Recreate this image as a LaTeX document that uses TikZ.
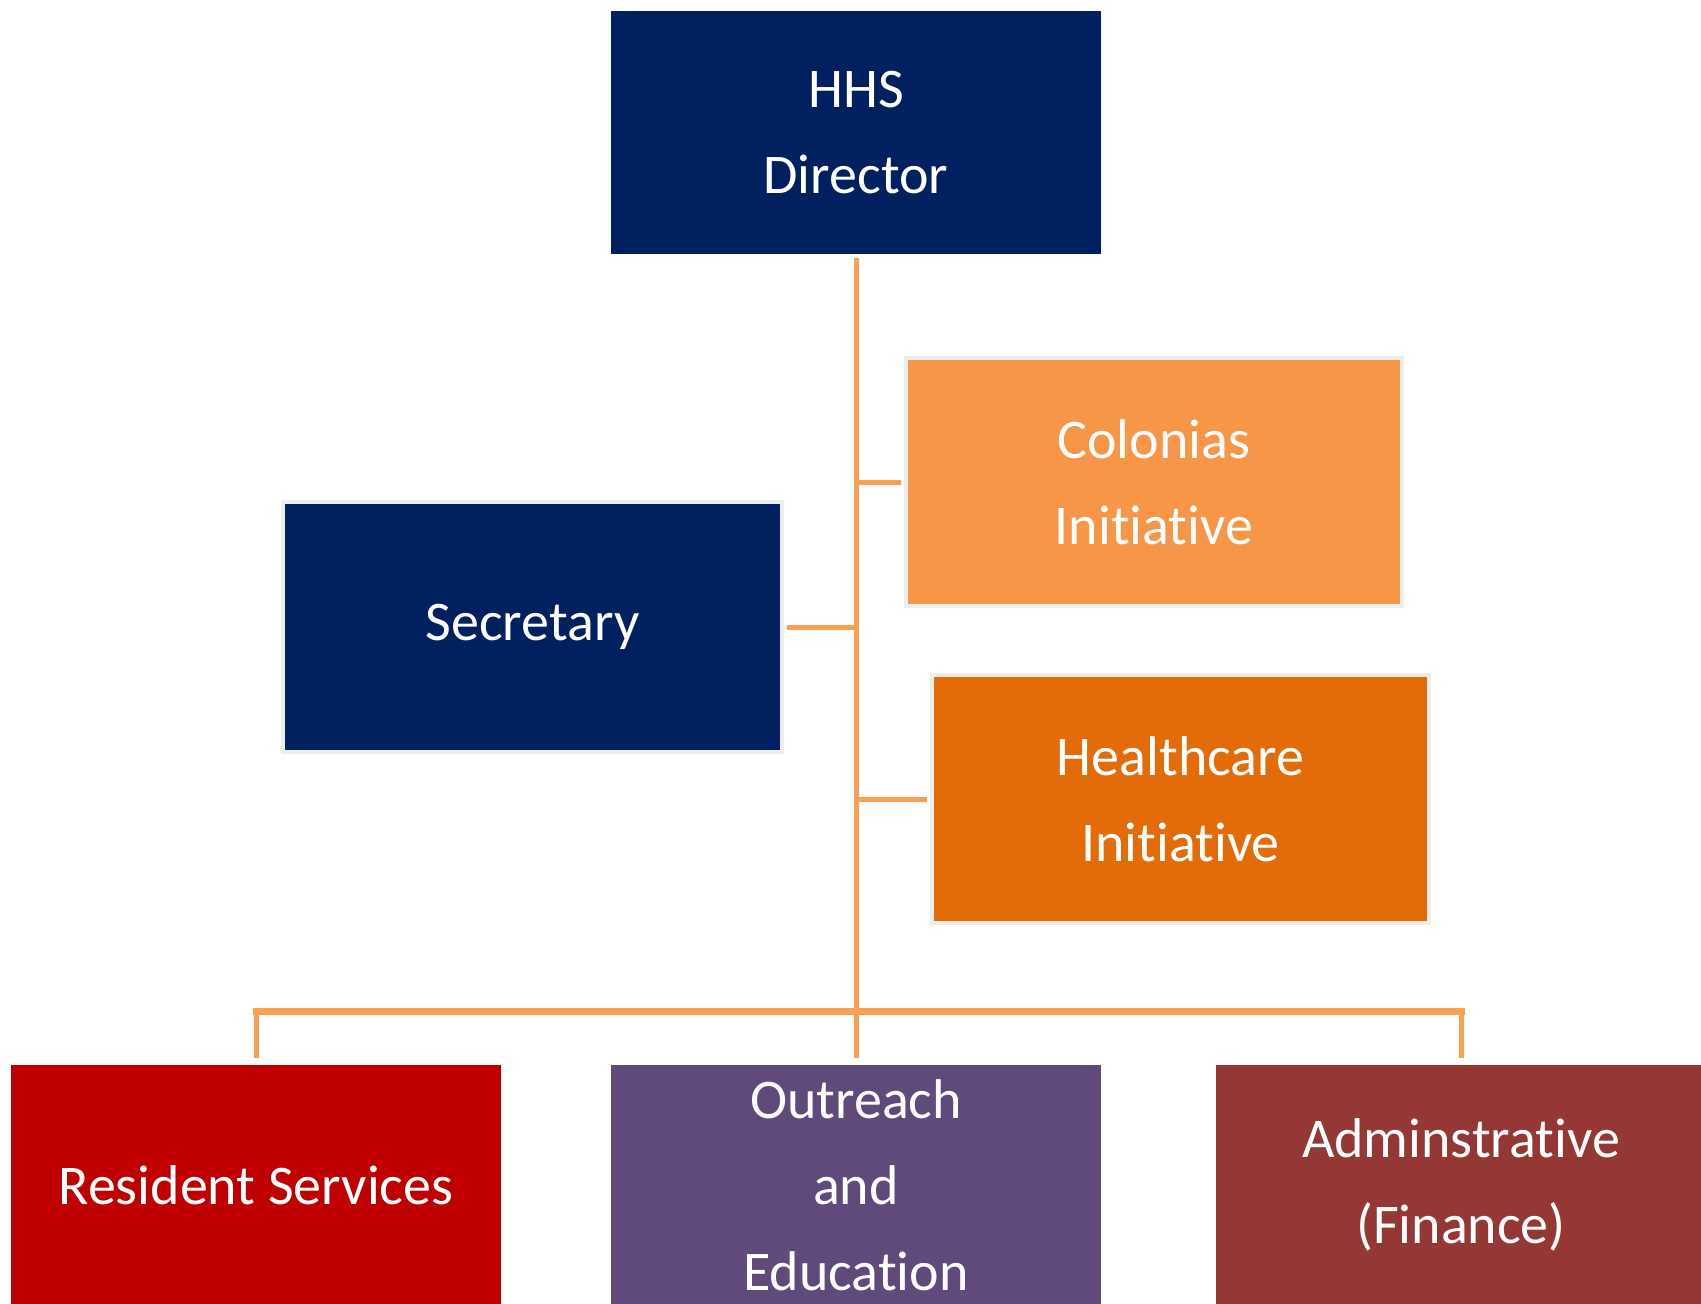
\documentclass[tikz,border=0pt]{standalone}
\usepackage{fontspec}
\setmainfont{Carlito}[Ligatures=NoCommon]
\definecolor{navy}{HTML}{002060}
\definecolor{orangeA}{HTML}{F79646}
\definecolor{orangeB}{HTML}{E36C09}
\definecolor{redA}{HTML}{C00000}
\definecolor{purpleA}{HTML}{604A7B}
\definecolor{brownA}{HTML}{953735}
\definecolor{lineA}{HTML}{F9A052}
\definecolor{frameA}{HTML}{EEEEEE}
\tikzset{
  orgbox/.style={rectangle, inner sep=0pt, text=white, align=center,
    font=\fontsize{56}{86}\selectfont},
  framed/.style={draw=frameA, line width=4pt},
  conn/.style={draw=lineA, line width=5pt},
  busline/.style={draw=lineA, line width=7pt},
}
\begin{document}
\begin{tikzpicture}[x=1pt,y=-1pt]
\clip (0,0) rectangle (1701,1304);
\fill[white] (0,0) rectangle (1701,1304);
% boxes
\node[orgbox, fill=navy, minimum width=490pt, minimum height=243pt] (hhs) at (856,132.5) {HHS\\Director};
\node[orgbox, framed, fill=orangeA, minimum width=496pt, minimum height=248pt] (col) at (1154,482) {Colonias\\Initiative};
\node[orgbox, framed, fill=navy, minimum width=499pt, minimum height=250pt] (sec) at (532.5,627) {Secretary};
\node[orgbox, framed, fill=orangeB, minimum width=497pt, minimum height=248pt] (hea) at (1180.5,799) {Healthcare\\Initiative};
\node[orgbox, fill=redA, minimum width=490pt, minimum height=240pt] (res) at (256,1185) {Resident Services};
\node[orgbox, fill=purpleA, minimum width=490pt, minimum height=240pt] (out) at (856,1185) {Outreach\\and\\Education};
\node[orgbox, fill=brownA, minimum width=490pt, minimum height=240pt] (adm) at (1461,1185) {Adminstrative\\(Finance)};
% connectors
\coordinate (bus) at (856,1011);
\draw[conn, shorten <=4pt, shorten >=7pt] (hhs.south) -- (out.north);
\draw[conn, shorten <=3pt] (col.west) -- (col.west -| hhs.south);
\draw[conn, shorten <=3pt] (sec.east) -- (sec.east -| hhs.south);
\draw[conn, shorten <=3pt] (hea.west) -- (hea.west -| hhs.south);
\draw[busline, line cap=rect] (res.north |- bus) -- (adm.north |- bus);
\draw[conn, shorten <=7pt] (res.north) -- (res.north |- bus);
\draw[conn, shorten <=7pt] (adm.north) -- (adm.north |- bus);
\end{tikzpicture}
\end{document}
